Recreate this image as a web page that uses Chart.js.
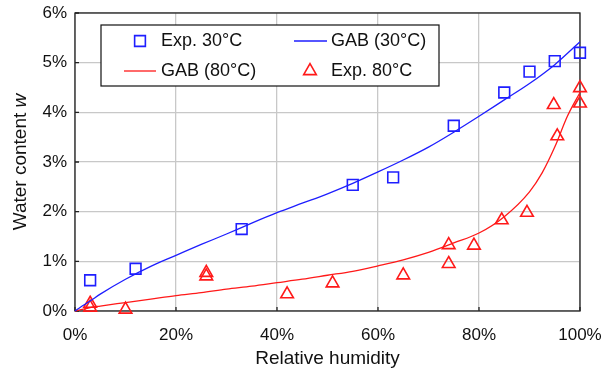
<!DOCTYPE html>
<html>
<head>
<meta charset="utf-8">
<script src="https://cdn.jsdelivr.net/npm/chart.js@4.4.0/dist/chart.umd.min.js"></script>
<style>
  html, body { margin: 0; padding: 0; background: #fff; }
</style>
</head>
<body>
<canvas id="chart" width="604" height="373"></canvas>
<script>
// relative humidity (%) and water content w (%)
const rhExp30 = [3, 12, 33, 55, 63, 75, 85, 90, 95, 100]
const wExp30 = [0.62, 0.85, 1.65, 2.54, 2.69, 3.73, 4.4, 4.82, 5.03, 5.2]

const rhExp80 = [3, 3, 10, 26, 26, 42, 51, 65, 74, 74, 79, 84.5, 89.5, 94.8, 95.5, 100, 100]
const wExp80 = [0.15, 0.07, 0.03, 0.77, 0.7, 0.34, 0.56, 0.72, 1.33, 0.95, 1.32, 1.83, 1.98, 4.15, 3.52, 4.49, 4.18]

const rhFit30 = [0, 1, 3, 5, 10, 15, 20, 25, 30, 35, 40, 45, 50, 55, 60, 65, 70, 75, 80, 85, 90, 95, 100]
const wFit30 = [0, 0.07, 0.2, 0.34, 0.64, 0.9, 1.12, 1.34, 1.55, 1.77, 1.98, 2.17, 2.36, 2.57, 2.8, 3.04, 3.3, 3.6, 3.92, 4.25, 4.58, 4.96, 5.42]

const rhFit80 = [0, 3, 5, 10, 15, 20, 25, 30, 35, 40, 45, 50, 55, 60, 65, 70, 75, 80, 85, 90, 92.5, 95, 97.5, 100]
const wFit80 = [0, 0.07, 0.1, 0.17, 0.24, 0.31, 0.37, 0.44, 0.5, 0.57, 0.64, 0.72, 0.8, 0.91, 1.03, 1.18, 1.37, 1.57, 1.9, 2.4, 2.78, 3.3, 3.92, 4.4]

const xTicks = [0, 20, 40, 60, 80, 100]
const yTicks = [0, 1, 2, 3, 4, 5, 6]

const BLUE = 'rgb(30, 30, 255)'
const RED = 'rgb(255, 25, 25)'
const FONT = '"Liberation Sans", Arial, Helvetica, sans-serif'

Chart.defaults.font.family = FONT
Chart.defaults.color = '#111'

function pts(xs, ys) {
  return xs.map((x, i) => ({ x: x, y: ys[i] }))
}

// black frame round the plot plus short inward tick marks
const frame = {
  id: 'frame',
  beforeDatasetsDraw(chart) {
    const { ctx, chartArea: a, scales } = chart
    ctx.save()
    ctx.strokeStyle = '#222'
    ctx.lineWidth = 1.3
    ctx.strokeRect(a.left, a.top, a.right - a.left, a.bottom - a.top)
    ctx.beginPath()
    xTicks.forEach(v => {
      const px = scales.x.getPixelForValue(v)
      ctx.moveTo(px, a.bottom)
      ctx.lineTo(px, a.bottom - 4)
    })
    yTicks.forEach(v => {
      const py = scales.y.getPixelForValue(v)
      ctx.moveTo(a.left, py)
      ctx.lineTo(a.left + 4, py)
    })
    ctx.stroke()
    ctx.restore()
  }
}

// boxed legend inside the plot, two columns
const legendBox = {
  id: 'legendBox',
  afterDraw(chart) {
    const ctx = chart.ctx
    const box = { l: 101, t: 25, r: 439, b: 86 }
    const cols = [{ mark: 140, line: [124, 156], text: 161 }, { mark: 310, line: [294, 327], text: 331 }]
    const rows = [41, 71]
    ctx.save()
    ctx.fillStyle = '#fff'
    ctx.fillRect(box.l, box.t, box.r - box.l, box.b - box.t)
    ctx.strokeStyle = '#111'
    ctx.lineWidth = 1.2
    ctx.strokeRect(box.l, box.t, box.r - box.l, box.b - box.t)
    chart.data.datasets.forEach((ds, i) => {
      const c = cols[i % 2]
      const y = rows[Math.floor(i / 2)]
      if (ds.showLine) {
        ctx.strokeStyle = ds.borderColor
        ctx.lineWidth = ds.borderWidth
        ctx.beginPath()
        ctx.moveTo(c.line[0], y)
        ctx.lineTo(c.line[1], y)
        ctx.stroke()
      } else {
        ctx.strokeStyle = ds.borderColor
        ctx.fillStyle = 'transparent'
        ctx.lineWidth = ds.pointBorderWidth
        Chart.helpers.drawPoint(ctx, { pointStyle: ds.pointStyle, radius: ds.pointRadius, rotation: 0, borderWidth: ds.pointBorderWidth }, c.mark, y)
      }
      ctx.fillStyle = '#111'
      ctx.font = '18px ' + FONT
      ctx.textBaseline = 'middle'
      ctx.textAlign = 'left'
      ctx.fillText(ds.label, c.text, y)
    })
    ctx.restore()
  }
}

// y axis title with italic w
const yTitle = {
  id: 'yTitle',
  afterDraw(chart) {
    const { ctx, chartArea: a } = chart
    const part1 = 'Water content '
    const part2 = 'w'
    ctx.save()
    ctx.translate(21, (a.top + a.bottom) / 2)
    ctx.rotate(-Math.PI / 2)
    ctx.fillStyle = '#111'
    ctx.textBaseline = 'middle'
    ctx.textAlign = 'left'
    ctx.font = '19px ' + FONT
    const w1 = ctx.measureText(part1).width
    ctx.font = 'italic 19px ' + FONT
    const w2 = ctx.measureText(part2).width
    const x0 = -(w1 + w2) / 2
    ctx.font = '19px ' + FONT
    ctx.fillText(part1, x0, 0)
    ctx.font = 'italic 19px ' + FONT
    ctx.fillText(part2, x0 + w1, 0)
    ctx.restore()
  }
}

const ctx = document.getElementById('chart').getContext('2d')
const chart = new Chart(ctx, {
  type: 'scatter',
  data: {
    datasets: [{
      label: 'Exp. 30°C',
      data: pts(rhExp30, wExp30),
      showLine: false,
      pointStyle: 'rect',
      pointRadius: 7.6,
      pointBorderWidth: 1.6,
      borderColor: BLUE,
      backgroundColor: 'transparent',
      clip: false
    }, {
      label: 'GAB (30°C)',
      data: pts(rhFit30, wFit30),
      showLine: true,
      pointRadius: 0,
      borderColor: BLUE,
      borderWidth: 1.3,
      cubicInterpolationMode: 'monotone',
      clip: false
    }, {
      label: 'GAB (80°C)',
      data: pts(rhFit80, wFit80),
      showLine: true,
      pointRadius: 0,
      borderColor: RED,
      borderWidth: 1.3,
      cubicInterpolationMode: 'monotone',
      clip: false
    }, {
      label: 'Exp. 80°C',
      data: pts(rhExp80, wExp80),
      showLine: false,
      pointStyle: 'triangle',
      pointRadius: 7.3,
      pointBorderWidth: 1.6,
      borderColor: RED,
      backgroundColor: 'transparent',
      clip: false
    }]
  },
  options: {
    responsive: false,
    animation: false,
    layout: { padding: { top: 13, right: 24, left: 0, bottom: 0 } },
    plugins: {
      legend: { display: false },
      tooltip: { enabled: false }
    },
    scales: {
      x: {
        type: 'linear',
        min: 0,
        max: 100,
        afterBuildTicks: s => { s.ticks = xTicks.map(v => ({ value: v })) },
        afterFit: s => { s.height = 62; s.paddingLeft = 0; s.paddingRight = 0 },
        grid: { color: '#c8c8c8', lineWidth: 1.3, drawTicks: false },
        border: { display: false },
        ticks: { padding: 14, font: { size: 17 }, maxRotation: 0, callback: v => v + '%' },
        title: { display: true, text: 'Relative humidity', font: { size: 19 }, padding: { top: 0, bottom: 3 } }
      },
      y: {
        type: 'linear',
        min: 0,
        max: 6,
        afterBuildTicks: s => { s.ticks = yTicks.map(v => ({ value: v })) },
        afterFit: s => { s.width = 75; s.paddingTop = 0; s.paddingBottom = 0 },
        grid: { color: '#c8c8c8', lineWidth: 1.3, drawTicks: false },
        border: { display: false },
        ticks: { padding: 8, font: { size: 17 }, callback: v => v + '%' }
      }
    }
  },
  plugins: [frame, legendBox, yTitle]
})
</script>
</body>
</html>
